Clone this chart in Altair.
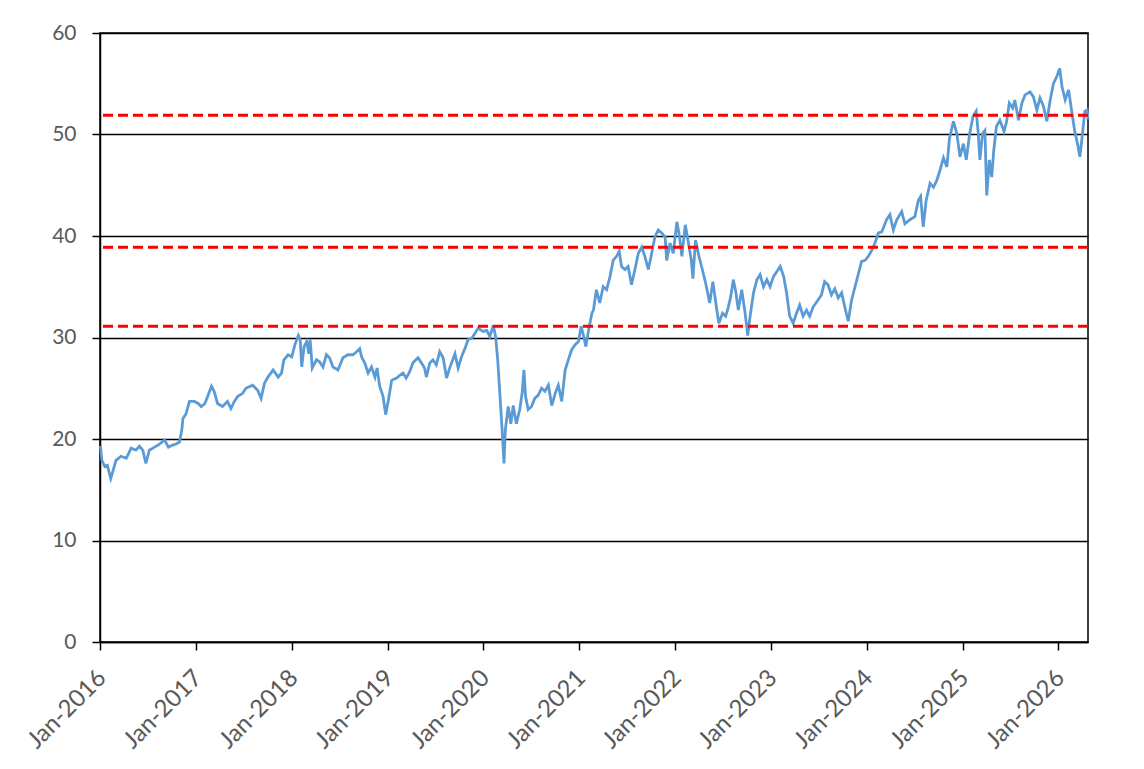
import altair as alt
import pandas as pd

dates = [
    "2016-01-01", "2016-01-04", "2016-01-08", "2016-01-19", "2016-01-29", "2016-02-11", "2016-02-20",
    "2016-03-02", "2016-03-21", "2016-04-10", "2016-04-29", "2016-05-17", "2016-05-30",
    "2016-06-12", "2016-06-24", "2016-07-07", "2016-07-27", "2016-08-15", "2016-09-03",
    "2016-09-18", "2016-10-04", "2016-10-17", "2016-10-30", "2016-11-08", "2016-11-12",
    "2016-11-24", "2016-12-07", "2016-12-26", "2017-01-09", "2017-01-21", "2017-02-04",
    "2017-02-16", "2017-03-01", "2017-03-11", "2017-03-24", "2017-04-12", "2017-05-01",
    "2017-05-14", "2017-05-27", "2017-06-09", "2017-06-28", "2017-07-10", "2017-08-05",
    "2017-08-24", "2017-09-06", "2017-09-19", "2017-10-02", "2017-10-22", "2017-11-10",
    "2017-11-23", "2017-12-02", "2017-12-18", "2018-01-01", "2018-01-13", "2018-01-26",
    "2018-02-02", "2018-02-08", "2018-02-17", "2018-02-27", "2018-03-07", "2018-03-12",
    "2018-03-20", "2018-04-05", "2018-04-17", "2018-04-30", "2018-05-13", "2018-05-25",
    "2018-06-07", "2018-06-26", "2018-07-15", "2018-08-03", "2018-08-22", "2018-09-05",
    "2018-09-17", "2018-09-24", "2018-10-06", "2018-10-19", "2018-11-01", "2018-11-14",
    "2018-11-22", "2018-12-02", "2018-12-15", "2018-12-25", "2019-01-04", "2019-01-17",
    "2019-02-05", "2019-02-18", "2019-03-01", "2019-03-13", "2019-03-26", "2019-04-08",
    "2019-04-27", "2019-05-10", "2019-05-22", "2019-05-29", "2019-06-11", "2019-06-23",
    "2019-07-06", "2019-07-19", "2019-08-01", "2019-08-14", "2019-08-26", "2019-09-15",
    "2019-09-27", "2019-10-10", "2019-10-23", "2019-11-04", "2019-11-17", "2019-11-30",
    "2019-12-12", "2020-01-01", "2020-01-14", "2020-01-26", "2020-02-08", "2020-02-17",
    "2020-02-25", "2020-03-04", "2020-03-12", "2020-03-20", "2020-03-25", "2020-04-05",
    "2020-04-15", "2020-04-24", "2020-05-06", "2020-05-19", "2020-05-28", "2020-06-04",
    "2020-06-10", "2020-06-20", "2020-07-03", "2020-07-15", "2020-07-28", "2020-08-10",
    "2020-08-23", "2020-09-05", "2020-09-18", "2020-10-01", "2020-10-13", "2020-10-26",
    "2020-11-08", "2020-11-20", "2020-12-03", "2020-12-16", "2020-12-29", "2021-01-08",
    "2021-01-17", "2021-01-26", "2021-02-05", "2021-02-18", "2021-02-24", "2021-03-07",
    "2021-03-20", "2021-04-02", "2021-04-15", "2021-04-28", "2021-05-10", "2021-05-23",
    "2021-06-02", "2021-06-11", "2021-06-24", "2021-07-06", "2021-07-19", "2021-08-01",
    "2021-08-14", "2021-08-27", "2021-09-08", "2021-09-21", "2021-10-04", "2021-10-16",
    "2021-10-29", "2021-11-11", "2021-11-24", "2021-11-30", "2021-12-13", "2021-12-25",
    "2022-01-08", "2022-01-18", "2022-01-27", "2022-02-09", "2022-02-21", "2022-03-04",
    "2022-03-10", "2022-03-20", "2022-04-02", "2022-04-15", "2022-04-28", "2022-05-13",
    "2022-05-25", "2022-06-08", "2022-06-17", "2022-07-01", "2022-07-13", "2022-07-22",
    "2022-08-01", "2022-08-11", "2022-08-21", "2022-08-30", "2022-09-12", "2022-09-25",
    "2022-10-05", "2022-10-14", "2022-10-27", "2022-11-09", "2022-11-21", "2022-12-04",
    "2022-12-17", "2022-12-29", "2023-01-11", "2023-01-24", "2023-02-06", "2023-02-19",
    "2023-03-02", "2023-03-14", "2023-03-27", "2023-04-09", "2023-04-21", "2023-05-04",
    "2023-05-17", "2023-05-29", "2023-06-11", "2023-06-30", "2023-07-13", "2023-07-25",
    "2023-08-07", "2023-08-20", "2023-09-02", "2023-09-15", "2023-09-28", "2023-10-10",
    "2023-10-23", "2023-11-05", "2023-11-18", "2023-11-30", "2023-12-13", "2023-12-26",
    "2024-01-08", "2024-01-21", "2024-02-02", "2024-02-15", "2024-02-28", "2024-03-17",
    "2024-03-30", "2024-04-12", "2024-04-25", "2024-05-14", "2024-05-26", "2024-06-14",
    "2024-07-03", "2024-07-16", "2024-07-25", "2024-08-04", "2024-08-15", "2024-08-30",
    "2024-09-12", "2024-09-25", "2024-10-07", "2024-10-20", "2024-11-02", "2024-11-12",
    "2024-11-27", "2024-12-10", "2024-12-22", "2025-01-04", "2025-01-15", "2025-01-28",
    "2025-02-10", "2025-02-22", "2025-03-01", "2025-03-08", "2025-03-18", "2025-03-27",
    "2025-04-03", "2025-04-13", "2025-04-22", "2025-04-30", "2025-05-10", "2025-05-23",
    "2025-06-08", "2025-06-18", "2025-06-28", "2025-07-11", "2025-07-19", "2025-08-02",
    "2025-08-15", "2025-08-27", "2025-09-15", "2025-09-28", "2025-10-11", "2025-10-23",
    "2025-11-05", "2025-11-18", "2025-12-01", "2025-12-13", "2025-12-26", "2026-01-06",
    "2026-01-15", "2026-01-27", "2026-02-09", "2026-02-22", "2026-03-04", "2026-03-15",
    "2026-03-24", "2026-04-03", "2026-04-12", "2026-04-21", "2026-04-24",
]

values = [
    19.3, 19.0, 17.9, 17.3, 17.4, 16.1, 16.9,
    17.9, 18.3, 18.1, 19.1, 18.9, 19.3,
    18.9, 17.6, 18.9, 19.2, 19.5, 19.9,
    19.2, 19.4, 19.5, 19.7, 20.9, 22.0,
    22.5, 23.7, 23.7, 23.5, 23.2, 23.5,
    24.3, 25.2, 24.7, 23.5, 23.2, 23.7,
    23.0, 23.7, 24.2, 24.5, 25.0, 25.3,
    24.8, 24.0, 25.5, 26.1, 26.8, 26.1,
    26.5, 27.8, 28.3, 28.1, 29.3, 30.2,
    29.8, 27.1, 29.1, 29.6, 28.4, 29.8,
    27.0, 27.8, 27.6, 27.1, 28.3, 28.0,
    27.1, 26.8, 28.0, 28.3, 28.3, 28.6,
    28.9, 28.1, 27.5, 26.5, 27.1, 26.1,
    27.0, 25.2, 24.2, 22.4, 23.8, 25.8,
    26.0, 26.3, 26.5, 26.0, 26.6, 27.5,
    28.0, 27.5, 27.0, 26.1, 27.5, 27.8,
    27.3, 28.6, 28.0, 26.0, 27.0, 28.4,
    27.0, 28.1, 28.9, 29.8, 29.9, 30.4,
    30.9, 30.6, 30.7, 30.1, 31.2, 30.1,
    27.8, 24.5, 21.2, 17.6, 20.9, 23.2,
    21.5, 23.3, 21.5, 22.9, 24.5, 26.8,
    24.2, 22.9, 23.2, 24.0, 24.3, 25.0,
    24.7, 25.3, 23.3, 24.5, 25.3, 23.7,
    26.8, 27.8, 28.8, 29.3, 29.6, 31.1,
    30.2, 29.1, 30.7, 32.4, 32.7, 34.7,
    33.4, 35.0, 34.7, 36.0, 37.6, 38.0,
    38.5, 37.0, 36.7, 37.0, 35.2, 36.7,
    38.3, 38.9, 38.0, 36.7, 38.3, 39.9,
    40.6, 40.3, 39.9, 37.6, 39.3, 38.3,
    41.4, 39.9, 38.0, 41.1, 39.3, 37.6,
    35.8, 39.6, 38.0, 36.7, 35.3, 33.4,
    35.5, 32.9, 31.4, 32.4, 32.1, 32.9,
    34.0, 35.7, 34.4, 32.7, 34.7, 32.4,
    30.2, 32.1, 34.4, 35.7, 36.2, 35.0,
    35.7, 35.0, 36.0, 36.5, 37.0, 36.0,
    34.4, 32.1, 31.4, 32.4, 33.2, 32.1,
    32.7, 32.1, 33.0, 33.7, 34.2, 35.5,
    35.2, 34.2, 34.8, 33.9, 34.4, 33.0,
    31.6, 33.7, 35.0, 36.2, 37.5, 37.6,
    38.0, 38.6, 39.3, 40.3, 40.4, 41.6,
    42.1, 40.6, 41.6, 42.4, 41.2, 41.6,
    41.9, 43.5, 43.9, 40.9, 43.5, 45.2,
    44.8, 45.5, 46.5, 47.7, 46.8, 49.6,
    51.3, 50.1, 47.8, 49.1, 47.5, 50.1,
    51.8, 52.3, 50.3, 47.5, 50.1, 50.4,
    44.0, 47.5, 45.8, 48.5, 50.8, 51.4,
    50.3, 51.3, 53.1, 52.6, 53.4, 51.4,
    53.1, 53.9, 54.2, 53.7, 52.4, 53.6,
    52.8, 51.3, 53.4, 55.0, 55.7, 56.5,
    54.7, 53.4, 54.4, 52.1, 50.4, 49.1,
    47.8, 50.1, 52.3, 52.4, 51.5,
]

levels = [51.9, 38.9, 31.1]
year_ticks = list(range(2016, 2027))
y_ticks = [0, 10, 20, 30, 40, 50, 60]

df = pd.DataFrame({"date": dates, "value": values})
lv = pd.DataFrame({"level": levels})

FONT = "Lato"
GRAY = "#595959"

x_enc = alt.X(
    "date:T",
    scale=alt.Scale(domain=[alt.DateTime(year=2016, month=1, date=1),
                            alt.DateTime(year=2026, month=4, date=24)]),
    axis=alt.Axis(
        values=[alt.DateTime(year=y, month=1, date=1) for y in year_ticks],
        format="%b-%Y", labelAngle=-45, labelAlign="right", labelBaseline="middle",
        labelPadding=24, labelOffset=2, labelFontSize=24, tickSize=8, grid=False, title=None,
    ),
)
y_enc = alt.Y(
    "value:Q",
    scale=alt.Scale(domain=[0, 60], nice=False, zero=True),
    axis=alt.Axis(values=y_ticks, tickSize=8, labelPadding=16, labelFontSize=21,
                  grid=True, title=None),
)

line = alt.Chart(df).mark_line(color="#5B9BD5", strokeWidth=2.8).encode(x=x_enc, y=y_enc)

rules = alt.Chart(lv).mark_rule(color="#FF0000", strokeWidth=3, strokeDash=[10, 5]).encode(
    y=alt.Y("level:Q", scale=alt.Scale(domain=[0, 60])),
)

chart = alt.layer(line, rules).properties(
    width=988, height=609,
    autosize=alt.AutoSizeParams(type="none"),
    padding={"left": 92, "top": 25, "right": 48, "bottom": 120},
).configure_view(
    stroke="black", strokeWidth=1.5,
).configure_axis(
    domainColor="black", domainWidth=1.5, tickColor="black", tickWidth=1.5,
    gridColor="black", gridWidth=1.5, gridOpacity=1,
    labelColor=GRAY, labelFont=FONT,
)

chart.save("out.html", embed_options={"renderer": "svg", "actions": False})
